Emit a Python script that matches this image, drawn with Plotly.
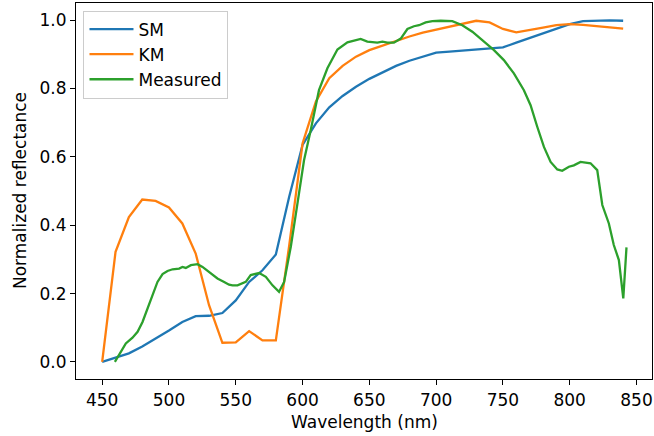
import plotly.graph_objects as go

# --- data ---
sm_x = [450, 460, 470, 480, 490, 500, 510, 520, 530, 540, 550, 560, 570, 580, 590,
        600, 610, 620, 630, 640, 650, 660, 670, 680, 690, 700, 710, 720, 730, 740,
        750, 760, 770, 780, 790, 800, 810, 820, 830, 840]
sm_y = [0.0, 0.012, 0.025, 0.045, 0.068, 0.092, 0.117, 0.134, 0.135, 0.143, 0.18, 0.234,
        0.268, 0.314, 0.483, 0.635, 0.698, 0.745, 0.778, 0.805, 0.828, 0.848, 0.866,
        0.881, 0.894, 0.905, 0.908, 0.911, 0.914, 0.917, 0.92, 0.934, 0.948, 0.962,
        0.976, 0.988, 0.997, 0.999, 0.999, 0.998]

km_x = sm_x
km_y = [0.0, 0.322, 0.424, 0.475, 0.471, 0.452, 0.405, 0.317, 0.166, 0.056, 0.057, 0.09,
        0.063, 0.063, 0.34, 0.639, 0.762, 0.83, 0.866, 0.893, 0.912, 0.926, 0.94, 0.952,
        0.963, 0.972, 0.98, 0.99, 0.998, 0.993, 0.974, 0.964, 0.97, 0.978, 0.985, 0.988,
        0.986, 0.983, 0.979, 0.975]

meas_x = [459.5, 464, 467.7, 472.7, 476.5, 480.2, 484, 487.7, 491.4, 495.2, 498.9, 502.7,
          507.6, 510.1, 512.6, 516.4, 521.4, 525.1, 528.9, 532, 536.3, 541.3, 545, 547.6,
          551.3, 557.5, 561.2, 567.5, 572.5, 577.5, 582.4, 586.2, 591.2, 596.2, 601.1,
          606.1, 612.3, 618.6, 626.1, 633.6, 638.5, 643.5, 648.5, 656, 659.8, 663.5,
          668.4, 673.5, 678.5, 683.4, 687.2, 692.2, 697.2, 703.4, 712.1, 719.6, 727.1,
          735.8, 743.3, 750.7, 758.2, 765.7, 770.7, 775.7, 780.7, 785.7, 790.7, 794.4,
          799.4, 803.1, 808.1, 815.6, 820.6, 824.4, 829.3, 833, 836.8, 840.1, 842.5]
meas_y = [0.0, 0.029, 0.054, 0.071, 0.088, 0.117, 0.156, 0.195, 0.234, 0.257, 0.266, 0.271,
          0.273, 0.278, 0.275, 0.283, 0.286, 0.278, 0.266, 0.257, 0.244, 0.234, 0.226,
          0.224, 0.224, 0.234, 0.254, 0.26, 0.249, 0.224, 0.205, 0.234, 0.337, 0.464,
          0.59, 0.678, 0.795, 0.859, 0.914, 0.935, 0.939, 0.945, 0.937, 0.934, 0.937,
          0.934, 0.934, 0.946, 0.974, 0.982, 0.985, 0.993, 0.997, 0.998, 0.997, 0.985,
          0.966, 0.937, 0.912, 0.883, 0.844, 0.795, 0.751, 0.688, 0.629, 0.585, 0.563,
          0.559, 0.571, 0.575, 0.585, 0.581, 0.561, 0.459, 0.405, 0.342, 0.298, 0.186,
          0.335]

x_ticks = [450, 500, 550, 600, 650, 700, 750, 800, 850]
y_ticks = [0.0, 0.2, 0.4, 0.6, 0.8, 1.0]

FONT = "DejaVu Sans"
FS = 17
TXT = "black"

fig = go.Figure()
fig.add_trace(go.Scatter(x=sm_x, y=sm_y, mode="lines", name="SM",
                         line=dict(color="#1f77b4", width=2.3)))
fig.add_trace(go.Scatter(x=km_x, y=km_y, mode="lines", name="KM",
                         line=dict(color="#ff7f0e", width=2.3)))
fig.add_trace(go.Scatter(x=meas_x, y=meas_y, mode="lines", name="Measured",
                         line=dict(color="#2ca02c", width=2.3)))

axis_common = dict(showline=True, linecolor="black", linewidth=1.2, mirror=True,
                   ticks="outside", ticklen=5, tickwidth=1.2, tickcolor="black",
                   showgrid=False, zeroline=False, automargin=False,
                   tickfont=dict(family=FONT, size=FS, color=TXT))

fig.update_xaxes(range=[430.4, 861.6], tickvals=x_ticks, **axis_common)
fig.update_yaxes(range=[-0.05, 1.05], tickvals=y_ticks, tickformat=".1f", **axis_common)

fig.add_annotation(text="Wavelength (nm)", xref="paper", yref="paper", x=0.5, y=0,
                   xanchor="center", yanchor="middle", yshift=-43, showarrow=False,
                   font=dict(family=FONT, size=FS, color=TXT))
fig.add_annotation(text="Normalized reflectance", xref="paper", yref="paper", x=0, y=0.5,
                   xanchor="center", yanchor="middle", xshift=-56, textangle=-90,
                   showarrow=False, font=dict(family=FONT, size=FS, color=TXT))

fig.update_layout(
    width=654, height=436,
    margin=dict(l=76, r=2, t=3, b=57),
    plot_bgcolor="white", paper_bgcolor="white",
    font=dict(family=FONT, size=FS, color=TXT),
    legend=dict(x=0.013, y=0.98, xanchor="left", yanchor="top",
                bgcolor="rgba(255,255,255,0.8)", bordercolor="#cccccc", borderwidth=1,
                font=dict(family=FONT, size=FS, color=TXT),
                itemwidth=44, tracegroupgap=0),
    showlegend=True,
)

fig.write_html("out.html", config={"displayModeBar": False},
               post_script="document.body.style.margin='0';document.body.style.overflow='hidden';")
